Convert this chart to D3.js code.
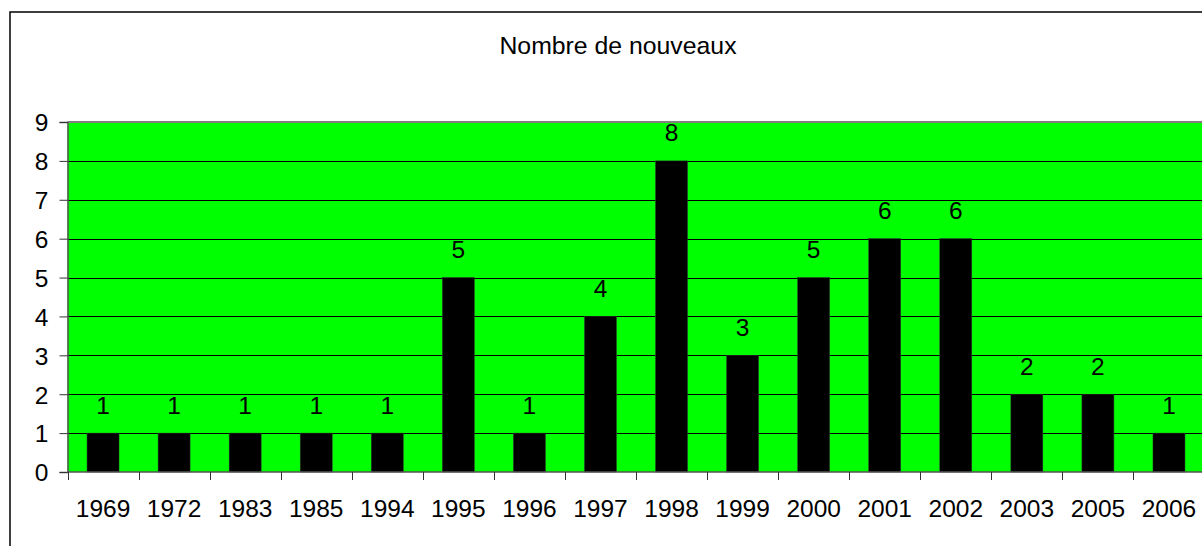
<!DOCTYPE html>
<html>
<head>
<meta charset="utf-8">
<script src="https://cdn.jsdelivr.net/npm/d3@7"></script>
<style>
  body { margin: 0; background: #fff; }
  text { font-family: "Liberation Sans", Arial, sans-serif; fill: #000; }
</style>
</head>
<body>
<div id="chart"></div>
<script>
// data
var years = ["1969", "1972", "1983", "1985", "1994", "1995", "1996", "1997",
  "1998", "1999", "2000", "2001", "2002", "2003", "2005", "2006"];
var counts = [1, 1, 1, 1, 1, 5, 1, 4, 8, 3, 5, 6, 6, 2, 2, 1];
var yTicks = [0, 1, 2, 3, 4, 5, 6, 7, 8, 9];
var title = "Nombre de nouveaux";

var svgWidth = 1202;
var svgHeight = 546;

var plot = { left: 67.5, right: 1204.5, top: 122, bottom: 472 };

var svg = d3.select("#chart")
  .append("svg")
  .attr("width", svgWidth)
  .attr("height", svgHeight);

// outer frame of the chart (wider than the window, so it is cut on the right)
svg.append("rect")
  .attr("x", 10)
  .attr("y", 12)
  .attr("width", 1230)
  .attr("height", 560)
  .attr("fill", "#fff")
  .attr("stroke", "#000")
  .attr("stroke-width", 1.5);

svg.append("text")
  .attr("x", 618)
  .attr("y", 54)
  .attr("text-anchor", "middle")
  .style("font-size", "24.8px")
  .text(title);

var x = d3.scaleBand()
  .domain(years)
  .range([plot.left, plot.right])
  .paddingInner(0.55)
  .paddingOuter(0.275);

var y = d3.scaleLinear()
  .domain([0, 9])
  .range([plot.bottom, plot.top]);

// green plot area
svg.append("rect")
  .attr("x", plot.left)
  .attr("y", plot.top)
  .attr("width", plot.right - plot.left)
  .attr("height", plot.bottom - plot.top)
  .attr("fill", "#00ff00");

// gridlines
svg.append("g")
  .selectAll("line")
  .data(yTicks.filter(d => d > 0 && d < 9))
  .enter()
  .append("line")
  .attr("x1", plot.left)
  .attr("x2", plot.right)
  .attr("y1", d => Math.round(y(d)) + 0.5)
  .attr("y2", d => Math.round(y(d)) + 0.5)
  .attr("stroke", "#000")
  .attr("stroke-width", 1);

// top edge of plot area
svg.append("line")
  .attr("x1", plot.left)
  .attr("x2", plot.right)
  .attr("y1", plot.top)
  .attr("y2", plot.top)
  .attr("stroke", "#808080")
  .attr("stroke-width", 2);

// bars
svg.append("g")
  .selectAll("rect")
  .data(counts)
  .enter()
  .append("rect")
  .attr("x", (d, i) => x(years[i]))
  .attr("y", d => y(d))
  .attr("width", x.bandwidth())
  .attr("height", d => y(0) - y(d))
  .attr("fill", "#000")
  .attr("stroke", "#333")
  .attr("stroke-width", 0.5);

// value labels
svg.append("g")
  .selectAll("text")
  .data(counts)
  .enter()
  .append("text")
  .attr("x", (d, i) => x(years[i]) + x.bandwidth() / 2)
  .attr("y", d => y(d) - 19.5)
  .attr("text-anchor", "middle")
  .style("font-size", "24.5px")
  .text(d => d);

// y axis
var leftAxis = d3.axisLeft(y)
  .tickValues(yTicks)
  .tickSize(8)
  .tickPadding(11)
  .tickFormat(d3.format("d"));

var yAxis = svg.append("g")
  .attr("transform", `translate(${plot.left}, 0)`)
  .call(leftAxis);
yAxis.select(".domain").attr("stroke", "#555").attr("stroke-width", 1.5);
yAxis.selectAll(".tick line").attr("stroke", "#333");
yAxis.selectAll("text")
  .style("font-size", "24.5px")
  .attr("font-family", null)
  .attr("dy", "0.36em");

// x axis: ticks at category boundaries
var boundaries = years.map(d => x(d) - x.step() * x.paddingOuter());
boundaries.push(plot.right);

var xAxis = svg.append("g");
xAxis.append("line")
  .attr("x1", plot.left)
  .attr("x2", plot.right)
  .attr("y1", plot.bottom)
  .attr("y2", plot.bottom)
  .attr("stroke", "#555")
  .attr("stroke-width", 1.5);
xAxis.selectAll(".tk")
  .data(boundaries)
  .enter()
  .append("line")
  .attr("class", "tk")
  .attr("x1", d => Math.round(d) + 0.5)
  .attr("x2", d => Math.round(d) + 0.5)
  .attr("y1", plot.bottom)
  .attr("y2", plot.bottom + 8)
  .attr("stroke", "#333");
xAxis.selectAll("text")
  .data(years)
  .enter()
  .append("text")
  .attr("x", d => x(d) + x.bandwidth() / 2)
  .attr("y", 517)
  .attr("text-anchor", "middle")
  .style("font-size", "24.5px")
  .text(d => d);
</script>
</body>
</html>
